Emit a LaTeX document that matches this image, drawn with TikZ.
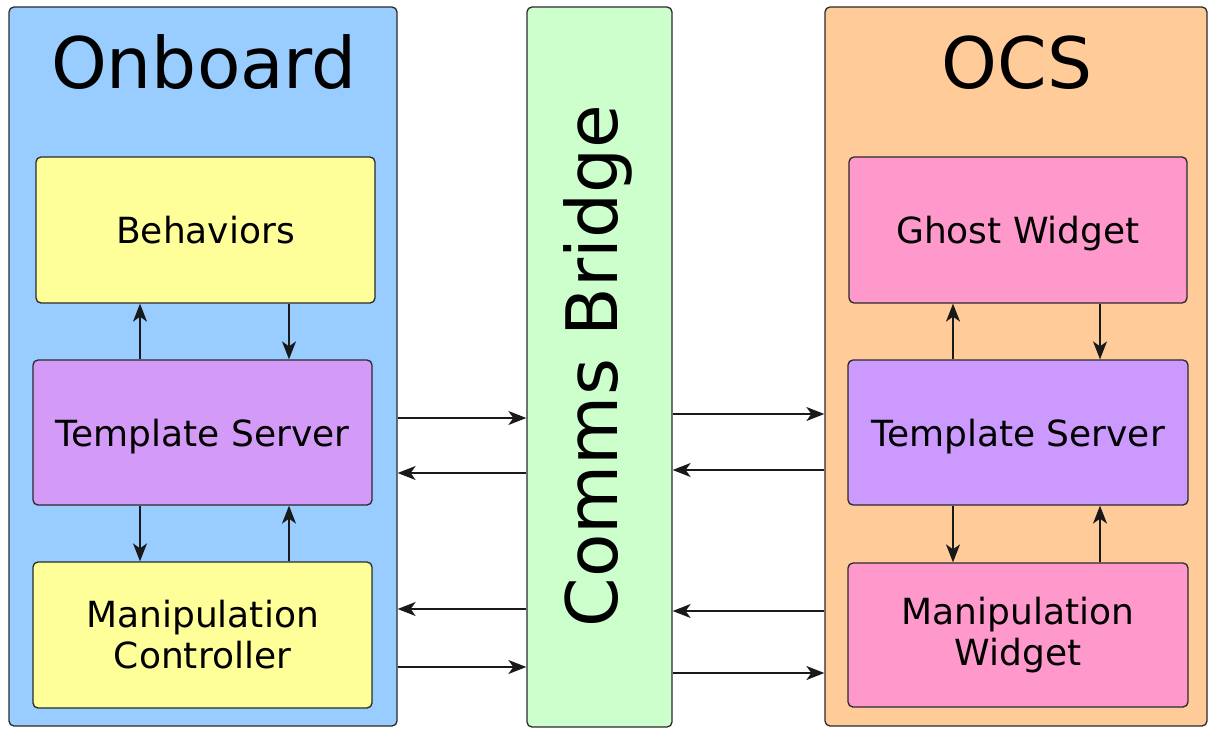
\documentclass[tikz,border=0pt]{standalone}
\usepackage{fontspec}
\setmainfont{DejaVu Sans}
\usetikzlibrary{arrows.meta}
\definecolor{onbblue}{HTML}{99CCFF}
\definecolor{ocsorange}{HTML}{FFCC99}
\definecolor{commsgreen}{HTML}{CCFFCC}
\definecolor{boxyellow}{HTML}{FFFF99}
\definecolor{tspurpleA}{HTML}{D49AF7}
\definecolor{tspurpleB}{HTML}{CC99FF}
\definecolor{boxpink}{HTML}{FF99CC}
\definecolor{edgecol}{HTML}{2A2A2A}
\begin{document}
\begin{tikzpicture}[x=1pt,y=-1pt,
  container/.style={draw=edgecol, line width=1.3pt, rounded corners=5pt, inner sep=0pt},
  inbox/.style={draw=edgecol, line width=1.3pt, rounded corners=5pt, inner sep=0pt,
    minimum height=146pt, align=center, font=\fontsize{36}{41}\selectfont},
  oneline/.style={text height=27pt, text depth=0pt},
  bigtitle/.style={font=\fontsize{71}{80}\selectfont, inner sep=0pt},
  arr/.style={draw=black!90, line width=1.4pt, -{Stealth[length=18pt,width=14pt,inset=5pt]}}]
\useasboundingbox (0,0) rectangle (1209,728);

% containers
\node[container, fill=onbblue, minimum width=388pt, minimum height=719pt] (onb) at (203,366.5) {};
\node[container, fill=commsgreen, minimum width=145pt, minimum height=720pt] (comms) at (599.5,367) {};
\node[container, fill=ocsorange, minimum width=382pt, minimum height=719pt] (ocs) at (1016,366.5) {};

% titles
\node[bigtitle, anchor=base] (onbtitle) at (204,88) {Onboard};
\node[bigtitle, anchor=base] (ocstitle) at (1017,88) {OCS};
\node[bigtitle, rotate=90] (commstitle) at (598,366) {Comms Bridge};

% onboard boxes
\node[inbox, oneline, fill=boxyellow, minimum width=339pt] (beh) at (205.5,230) {Behaviors};
\node[inbox, oneline, fill=tspurpleA, minimum width=339pt, minimum height=145pt] (tsA) at (202.5,432.5) {Template Server};
\node[inbox, fill=boxyellow, minimum width=339pt] (mc) at (202.5,635) {Manipulation\\Controller};

% OCS boxes
\node[inbox, oneline, fill=boxpink, minimum width=338pt] (gw) at (1018,230) {Ghost Widget};
\node[inbox, oneline, fill=tspurpleB, minimum width=340pt, minimum height=145pt] (tsB) at (1018,432.5) {Template Server};
\node[inbox, fill=boxpink, minimum width=340pt, minimum height=144pt] (mw) at (1018,635) {Manipulation\\Widget};

% helper coordinates
\coordinate (xa) at (140,0);
\coordinate (xb) at (289,0);
\coordinate (xc) at (953,0);
\coordinate (xd) at (1100,0);
\coordinate (ya) at (0,418);
\coordinate (yb) at (0,473);
\coordinate (yc) at (0,609);
\coordinate (yd) at (0,667);
\coordinate (ye) at (0,414);
\coordinate (yf) at (0,470);
\coordinate (yg) at (0,611);
\coordinate (yh) at (0,673);

% onboard internal arrows
\draw[arr] (tsA.north -| xa) -- (beh.south -| xa);
\draw[arr] (beh.south -| xb) -- (tsA.north -| xb);
\draw[arr] (tsA.south -| xa) -- (mc.north -| xa);
\draw[arr] (mc.north -| xb) -- (tsA.south -| xb);

% OCS internal arrows
\draw[arr] (tsB.north -| xc) -- (gw.south -| xc);
\draw[arr] (gw.south -| xd) -- (tsB.north -| xd);
\draw[arr] (tsB.south -| xc) -- (mw.north -| xc);
\draw[arr] (mw.north -| xd) -- (tsB.south -| xd);

% onboard <-> comms
\draw[arr] (onb.east |- ya) -- (comms.west |- ya);
\draw[arr] (comms.west |- yb) -- (onb.east |- yb);
\draw[arr] (comms.west |- yc) -- (onb.east |- yc);
\draw[arr] (onb.east |- yd) -- (comms.west |- yd);

% comms <-> OCS
\draw[arr] (comms.east |- ye) -- (ocs.west |- ye);
\draw[arr] (ocs.west |- yf) -- (comms.east |- yf);
\draw[arr] (ocs.west |- yg) -- (comms.east |- yg);
\draw[arr] (comms.east |- yh) -- (ocs.west |- yh);
\end{tikzpicture}
\end{document}
